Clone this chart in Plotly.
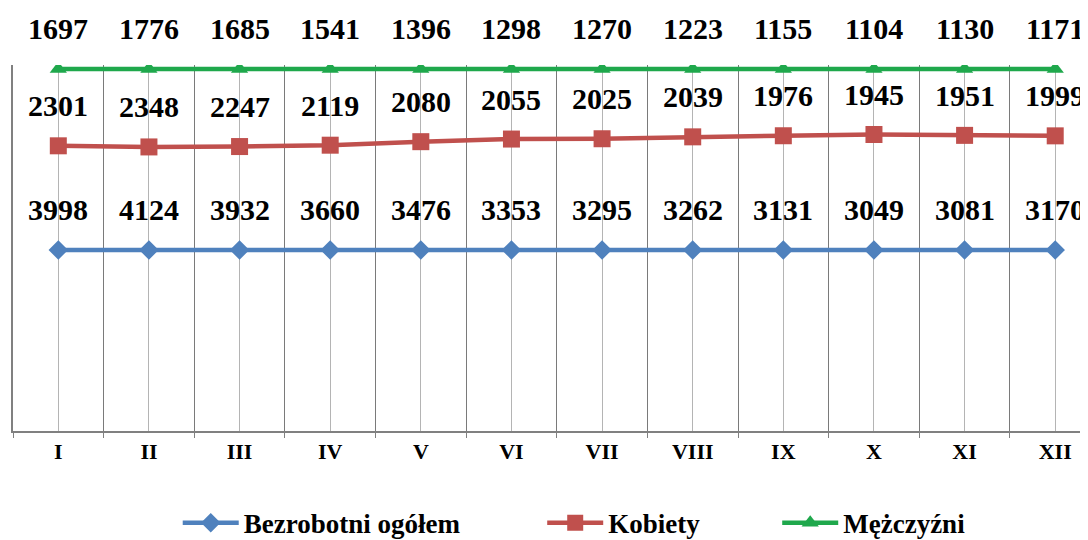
import plotly.graph_objects as go

months = ["I", "II", "III", "IV", "V", "VI", "VII", "VIII", "IX", "X", "XI", "XII"]
ogolem = [3998, 4124, 3932, 3660, 3476, 3353, 3295, 3262, 3131, 3049, 3081, 3170]
kobiety = [2301, 2348, 2247, 2119, 2080, 2055, 2025, 2039, 1976, 1945, 1951, 1999]
mezczyzni = [1697, 1776, 1685, 1541, 1396, 1298, 1270, 1223, 1155, 1104, 1130, 1171]

names = ["Bezrobotni ogółem", "Kobiety", "Mężczyźni"]
series = [ogolem, kobiety, mezczyzni]
colors = ["#4F81BD", "#C0504D", "#1FA84C"]
symbols = ["diamond", "square", "triangle-up"]
msizes = [15, 17, 15]
legend_ids = ["legend", "legend2", "legend3"]
legend_x = [0.156, 0.491, 0.707]

x = list(range(len(months)))
FONT = "Liberation Serif"

fig = go.Figure()
for name, vals, c, s, ms, lg in zip(names, series, colors, symbols, msizes, legend_ids):
    fig.add_trace(go.Scatter(
        x=x, y=vals, name=name, stackgroup="one", groupnorm="percent",
        fill="none", mode="lines+markers", legend=lg,
        line=dict(color=c, width=4.5),
        marker=dict(symbol=s, size=ms, color=c),
    ))

# value labels placed above the (100% stacked) points
totals = [sum(v[i] for v in series) for i in x]
cum = [0.0] * len(x)
annotations = []
for vals in series:
    cum = [cum[i] + vals[i] for i in x]
    for i in x:
        annotations.append(dict(
            x=i, y=cum[i] / totals[i] * 100, text=str(vals[i]),
            showarrow=False, yshift=40, yanchor="middle",
            font=dict(family=FONT, size=30, color="black", weight="bold"),
        ))

legend_font = dict(family=FONT, size=27, color="black", weight="bold")
legends = {}
for lg, lx in zip(legend_ids, legend_x):
    legends[lg] = dict(orientation="h", xref="container", yref="container",
                       x=lx, xanchor="left", y=0.046, yanchor="middle",
                       font=legend_font, itemwidth=56, bgcolor="rgba(0,0,0,0)")

fig.update_layout(
    width=1088, height=540,
    margin=dict(l=5, r=0, t=57, b=117),
    paper_bgcolor="white", plot_bgcolor="white",
    showlegend=True,
    annotations=annotations,
    xaxis=dict(
        range=[-0.5, 11.45], tickmode="array", tickvals=x, ticktext=months,
        showgrid=True, gridcolor="#b4b4b4", gridwidth=1,
        ticks="", showline=True, linecolor="#808080", linewidth=1.5,
        zeroline=False,
        tickfont=dict(family=FONT, size=22, color="black", weight="bold"),
        minor=dict(tick0=0.5, dtick=1, showgrid=True, gridcolor="#7a7a7a", gridwidth=1,
                   ticks="outside", ticklen=5, tickcolor="#808080"),
    ),
    yaxis=dict(
        range=[0, 101.1], showticklabels=False, showgrid=False, zeroline=False,
        showline=True, linecolor="#808080", linewidth=1.5, ticks="",
    ),
    **legends,
)

fig.write_html("out.html")
